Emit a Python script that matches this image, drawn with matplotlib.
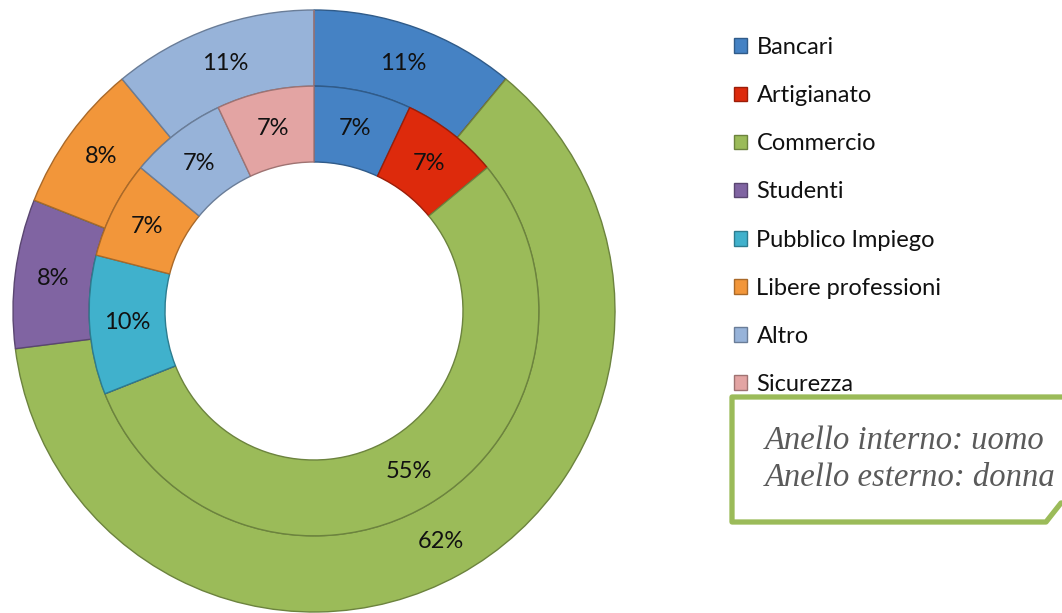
import matplotlib
matplotlib.use("Agg")
import matplotlib.pyplot as plt
from matplotlib.patches import Polygon
from matplotlib.colors import to_rgb

plt.rcParams['font.family'] = ['Lato', 'DejaVu Sans']

categories = ["Bancari", "Artigianato", "Commercio", "Studenti",
              "Pubblico Impiego", "Libere professioni", "Altro", "Sicurezza"]
donna = [11, 0, 62, 8, 0, 8, 11, 0]     # outer ring
uomo = [7, 7, 55, 0, 10, 7, 7, 7]       # inner ring
colors = ["#4582c4", "#dd2a0c", "#9bbb59", "#8064a2",
          "#40b1cc", "#f2963a", "#97b3d9", "#e3a4a3"]
note_lines = ["Anello interno: uomo", "Anello esterno: donna"]

W, H = 1062, 613
fig = plt.figure(figsize=(W / 100, H / 100), dpi=100)
fig.patch.set_facecolor("white")

# pie axes: centre (314, 311) px from top-left, radius 301 px
cx, cy, R = 314, 311, 301
ax = fig.add_axes([(cx - R) / W, (H - cy - R) / H, 2 * R / W, 2 * R / H])

r_out = 1.0
r_mid = 0.747
r_in = 0.495


def darker(c, f=0.7):
    r, g, b = to_rgb(c)
    return (r * f, g * f, b * f)


def pct(p):
    return f"{p:.0f}%" if p > 0.5 else ""


outer, _, outer_txt = ax.pie(
    donna, radius=r_out, colors=colors, startangle=90, counterclock=False,
    autopct=pct, pctdistance=(r_out + r_mid) / 2 / r_out,
    wedgeprops=dict(width=r_out - r_mid, linewidth=1.0),
    textprops=dict(fontsize=17, color="#111111"))
inner, _, inner_txt = ax.pie(
    uomo, radius=r_mid, colors=colors, startangle=90, counterclock=False,
    autopct=pct, pctdistance=(r_mid + r_in) / 2 / r_mid,
    wedgeprops=dict(width=r_mid - r_in, linewidth=1.0),
    textprops=dict(fontsize=17, color="#111111"))
for w in list(outer) + list(inner):
    w.set_edgecolor(darker(w.get_facecolor()))
ax.set_xlim(-1, 1)
ax.set_ylim(-1, 1)
ax.set_aspect("equal")
ax.axis("off")

# overlay axes in pixel coordinates
ov = fig.add_axes([0, 0, 1, 1])
ov.set_xlim(0, W)
ov.set_ylim(H, 0)
ov.axis("off")
ov.patch.set_alpha(0)

leg = ov.legend(list(outer), categories, loc="upper left",
                bbox_to_anchor=(734, 37), bbox_transform=ov.transData,
                frameon=False, fontsize=17, handlelength=0.57,
                handleheight=0.57, handletextpad=0.38, labelspacing=1.15,
                borderpad=0, borderaxespad=0)
for t in leg.get_texts():
    t.set_color("#111111")

box = Polygon([(732, 397), (1080, 397), (1080, 503), (1061, 503),
               (1046, 522), (732, 522)], closed=True,
              facecolor="white", edgecolor="#9bbb59", linewidth=3.8,
              joinstyle="round", zorder=10)
ov.add_patch(box)
for i, line in enumerate(note_lines):
    ov.text(765, 449 + 37 * i, line, fontsize=23.5, style="italic",
            family=["Liberation Serif", "DejaVu Serif"], color="#5a5a5a",
            va="baseline", ha="left", zorder=11)

fig.savefig("out.png", dpi=100, facecolor="white")
